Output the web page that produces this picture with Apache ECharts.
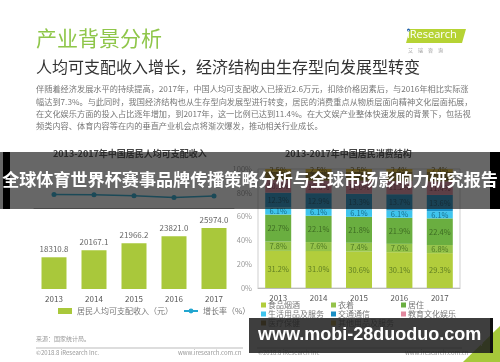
<!DOCTYPE html>
<html><head><meta charset="utf-8">
<script src="https://cdn.jsdelivr.net/npm/echarts@6/dist/echarts.min.js"></script>
<style>html,body{margin:0;padding:0;background:#fff}#c{width:500px;height:362px}</style>
</head><body><div id="c"></div>
<script>
var years = ['2013','2014','2015','2016','2017'];
var income = [18310.8, 20167.1, 21966.2, 23821.0, 25974.0];
var growth = [8.1, 8.0, 7.4, 6.3, 7.3];
var food = [31.2, 31.0, 30.6, 30.1, 29.3];
var clothing = [7.8, 7.6, 7.4, 7.0, 6.8];
var housing = [22.7, 22.1, 21.8, 21.9, 22.4];
var household = [6.1, 6.1, 6.1, 6.1, 6.1];
var transport = [12.3, 12.9, 13.3, 13.7, 13.6];
var education = [10.6, 10.6, 11.0, 11.2, 11.4];
var health = [6.9, 7.2, 7.4, 7.6, 7.9];
var other = [2.5, 2.5, 2.5, 2.4, 2.4];
var pctTicks = ['0%','20%','40%','60%','80%','100%'];

var FONT = '"Noto Sans CJK SC","Noto Sans",sans-serif';
var chart = echarts.init(document.getElementById('c'), null, {renderer:'canvas', width:500, height:362});

var stackDefs = [
  ['食品烟酒', food, '#b2cd3c', '#5f7d22'],
  ['衣着', clothing, '#95c34a', '#4f7a24'],
  ['居住', housing, '#6aae40', '#3d6b22'],
  ['生活用品及服务', household, '#3fc5ee', '#1b6f8c'],
  ['交通通信', transport, '#1b90c6', '#0d4f70'],
  ['教育文化娱乐', education, '#e2899f', '#8a3d50'],
  ['医疗保健', health, '#9c7b22', '#4a3a10'],
  ['其他用品及服务', other, '#e8bd2a', '#6b5510']
];

var series = [
  {type:'bar', name:'居民人均可支配收入（元）', data:income, xAxisIndex:0, yAxisIndex:0, barWidth:25,
   itemStyle:{color:'#a9c83b'},
   label:{show:true, position:'top', distance:4, fontSize:8, color:'#666', fontFamily:FONT,
          formatter:function(p){return p.value.toFixed(1);}}},
  {type:'line', name:'增长率（%）', data:growth, xAxisIndex:0, yAxisIndex:1,
   symbol:'circle', symbolSize:5, lineStyle:{width:1.5, color:'#22a6d0'}, itemStyle:{color:'#22a6d0'}}
];
stackDefs.forEach(function(d){
  series.push({type:'bar', name:d[0], data:d[1], stack:'s', xAxisIndex:1, yAxisIndex:2, barWidth:26,
    itemStyle:{color:d[2]},
    label:{show:true, position:'inside', fontSize:7.5, color:d[3], fontFamily:FONT,
           formatter:function(p){return p.value.toFixed(1)+'%';}}});
});

function legendCol(left, names){
  return {left:left, top:301, orient:'vertical', itemWidth:5, itemHeight:5, itemGap:1, icon:'rect',
          data:names, textStyle:{fontSize:8, color:'#777', fontFamily:FONT, lineHeight:8, padding:[0,0,0,-3]},
          selectedMode:false, padding:0};
}

var footer = '#999';
chart.setOption({
  animation:false,
  backgroundColor:'#fff',
  textStyle:{fontFamily:FONT},
  grid:[
    {left:34, width:200, top:174.5, bottom:73},
    {left:258, width:202, top:169, bottom:74, show:true, borderColor:'#cfcfcf', borderWidth:1}
  ],
  xAxis:[
    {type:'category', gridIndex:0, data:years, axisTick:{show:false},
     axisLine:{lineStyle:{color:'#aaa'}}, axisLabel:{fontSize:8, color:'#555', margin:6}},
    {type:'category', gridIndex:1, data:years, axisTick:{show:false},
     axisLine:{lineStyle:{color:'#bbb'}}, axisLabel:{fontSize:8, color:'#555', margin:6}}
  ],
  yAxis:[
    {type:'value', gridIndex:0, min:10000, max:40000, show:false},
    {type:'value', gridIndex:0, min:-48, max:20, show:false},
    {type:'value', gridIndex:1, min:0, max:100, interval:20, splitLine:{show:false},
     axisLine:{show:false}, axisTick:{show:false},
     axisLabel:{fontSize:7.5, color:'#999', margin:6, formatter:function(v){return pctTicks[v/20];}}}
  ],
  legend:[
    {left:58, top:307, itemWidth:14, itemHeight:6, itemGap:10, padding:0, selectedMode:false,
     data:[{name:'居民人均可支配收入（元）', icon:'rect'}, {name:'增长率（%）'}],
     textStyle:{fontSize:8, color:'#777', fontFamily:FONT}},
    legendCol(261, ['食品烟酒','生活用品及服务','医疗保健']),
    legendCol(331, ['衣着','交通通信','其他用品及服务']),
    legendCol(401, ['居住','教育文化娱乐'])
  ],
  series:series,
  graphic:[
    {type:'text', left:36, top:28, style:{text:'产业背景分析', font:'21px '+FONT, fill:'#8fc64a'}},
    {type:'text', left:36, top:59, style:{text:'人均可支配收入增长，经济结构由生存型向发展型转变', font:'16px '+FONT, fill:'#333'}},
    {type:'polygon', shape:{points:[[410,29],[466,29],[462,43],[406,43]]}, style:{fill:'#b6d334'}},
    {type:'circle', shape:{cx:408.5, cy:30, r:1.5}, style:{fill:'#1f5fa8'}},
    {type:'text', left:407, top:29.5, style:{text:'iResearch', font:'11px "Open Sans",sans-serif', fill:'#fff'}},
    {type:'text', left:408, top:48, style:{text:'艾　瑞　咨　询', font:'5px '+FONT, fill:'#999'}},
    {type:'text', left:36, top:83, style:{text:'伴随着经济发展水平的持续提高，2017年，中国人均可支配收入已接近2.6万元，扣除价格因素后，与2016年相比实际涨\n幅达到7.3%。与此同时，我国经济结构也从生存型向发展型进行转变，居民的消费重点从物质层面向精神文化层面拓展，\n在文化娱乐方面的投入占比逐年增加，到2017年，这一比例已达到11.4%。在大文娱产业整体快速发展的背景下，包括视\n频类内容、体育内容等在内的垂直产业机会点将渐次爆发，推动相关行业成长。', font:'8.2px '+FONT, fill:'#777', lineHeight:12.3}},
    {type:'text', left:53, top:149, style:{text:'2013-2017年中国居民人均可支配收入', font:'bold 9px '+FONT, fill:'#444'}},
    {type:'text', left:285, top:149, style:{text:'2013-2017年中国居民消费结构', font:'bold 9px '+FONT, fill:'#444'}},
    {type:'text', left:36, top:336, style:{text:'来源：国家统计局。', font:'6px '+FONT, fill:footer}},
    {type:'line', shape:{x1:36, y1:348, x2:243, y2:348}, style:{stroke:'#bbb', lineWidth:1}},
    {type:'text', left:36, top:350, style:{text:'©2018.8 iResearch Inc.', font:'6px '+FONT, fill:footer}},
    {type:'text', left:178, top:350, style:{text:'www.iresearch.com.cn', font:'6px '+FONT, fill:footer}},
    {type:'line', shape:{x1:257, y1:348, x2:462, y2:348}, style:{stroke:'#bbb', lineWidth:1}},
    {type:'text', left:258, top:350, style:{text:'©2018.8 iResearch Inc', font:'6px '+FONT, fill:footer}},
    {type:'text', left:405, top:350, style:{text:'www.iresearch.com.cn', font:'6px '+FONT, fill:footer}},
    {type:'polygon', shape:{points:[[463,362],[500,326],[500,362]]}, style:{fill:'#a6c83a'}},
    {type:'text', left:478, top:338, style:{text:'4', font:'9px '+FONT, fill:'#fff'}},
    {type:'rect', z:100, shape:{x:0, y:152, width:500, height:57}, style:{fill:'rgba(25,25,25,0.66)'}},
    {type:'rect', z:101, shape:{x:3, y:152, width:7, height:57}, style:{fill:'#000'}},
    {type:'rect', z:101, shape:{x:490, y:152, width:10, height:57}, style:{fill:'#000'}},
    {type:'text', z:102, left:'center', top:171, style:{text:'全球体育世界杯赛事品牌传播策略分析与全球市场影响力研究报告', font:'bold 17.1px '+FONT, fill:'#fff'}},
    {type:'rect', z:100, shape:{x:249, y:318, width:241, height:35}, style:{fill:'rgba(30,30,30,0.86)'}},
    {type:'rect', z:101, shape:{x:490, y:318, width:3, height:35}, style:{fill:'#111'}},
    {type:'text', z:102, left:258, top:326, style:{text:'www.mobi-28duoduo.com', font:'bold 18px "Liberation Sans",Arial,sans-serif', fill:'#fff'}}
  ]
});
</script></body></html>
